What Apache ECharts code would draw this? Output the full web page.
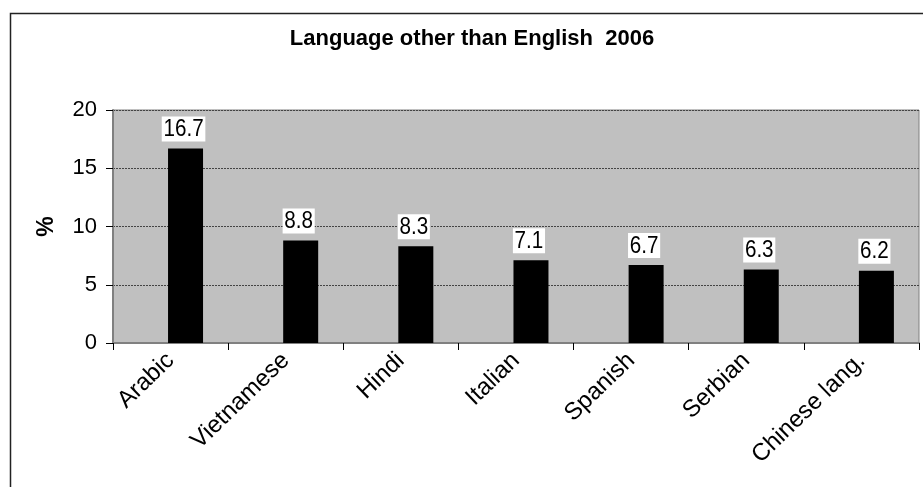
<!DOCTYPE html>
<html>
<head>
<meta charset="utf-8">
<script src="https://cdn.jsdelivr.net/npm/echarts@6/dist/echarts.min.js"></script>
<style>html,body{margin:0;padding:0;background:#fff}#c{width:923px;height:487px}</style>
</head>
<body>
<div id="c"></div>
<script>
const titleText = 'Language other than English  2006';
const categories = ['Arabic', 'Vietnamese', 'Hindi', 'Italian', 'Spanish', 'Serbian', 'Chinese lang.'];
const values = [16.7, 8.8, 8.3, 7.1, 6.7, 6.3, 6.2];
const yTicks = [0, 5, 10, 15, 20];

const chart = echarts.init(document.getElementById('c'));
const FONT = '"Liberation Sans", Arial, sans-serif';

chart.setOption({
  animation: false,
  backgroundColor: '#fff',
  title: {
    text: titleText,
    left: 467, top: 23, textAlign: 'center',
    textStyle: { fontFamily: FONT, fontWeight: 'bold', fontSize: 22, color: '#000' }
  },
  graphic: [{
    type: 'rect', left: 8, top: 11,
    shape: { x: 0, y: 0, width: 960, height: 500 },
    style: { fill: 'none', stroke: '#222', lineWidth: 1.5 },
    silent: true
  }],
  grid: {
    left: 113, top: 110, right: 4, bottom: 144,
    show: true, backgroundColor: '#c0c0c0', borderColor: '#808080', borderWidth: 1
  },
  xAxis: {
    type: 'category', data: categories,
    axisLine: { lineStyle: { color: '#808080', width: 2 } },
    axisTick: { show: true, length: 7, lineStyle: { color: '#000' } },
    axisLabel: { rotate: 44, margin: 14, fontFamily: FONT, fontSize: 24, color: '#000', interval: 0 }
  },
  yAxis: {
    type: 'value', min: yTicks[0], max: yTicks[yTicks.length - 1], interval: 5,
    name: '%', nameLocation: 'middle', nameGap: 55, nameRotate: 90,
    nameTextStyle: { fontFamily: FONT, fontWeight: 'bold', fontSize: 23, color: '#000' },
    axisLine: { show: true, lineStyle: { color: '#808080', width: 2 } },
    axisTick: { show: true, length: 7, lineStyle: { color: '#000' } },
    axisLabel: { margin: 16, fontFamily: FONT, fontSize: 22, color: '#000' },
    splitLine: { show: true, lineStyle: { color: '#444', type: [2, 1], width: 1 } }
  },
  series: [{
    type: 'custom',
    data: values.map((v, i) => [i, v]),
    encode: { x: 0, y: 1 },
    renderItem: function (params, api) {
      const i = api.value(0), v = api.value(1);
      const top = api.coord([i, v]);
      const base = api.coord([i, 0]);
      const band = api.size([1, 0])[0];
      const x0 = top[0] - band * 0.022;
      const w = band * 0.304;
      return {
        type: 'group',
        children: [{
          type: 'rect',
          shape: { x: x0, y: top[1], width: w, height: base[1] - top[1] },
          style: { fill: '#000' }
        }, {
          type: 'text',
          x: x0 + w / 2 - 2, y: top[1] - 7,
          scaleX: 0.86,
          style: {
            x: 0, y: 0, text: String(v), fill: '#000', fontFamily: FONT, fontSize: 24,
            align: 'center', verticalAlign: 'bottom',
            backgroundColor: '#fff', padding: [1, 2, 0, 2]
          }
        }]
      };
    }
  }]
});
</script>
</body>
</html>
